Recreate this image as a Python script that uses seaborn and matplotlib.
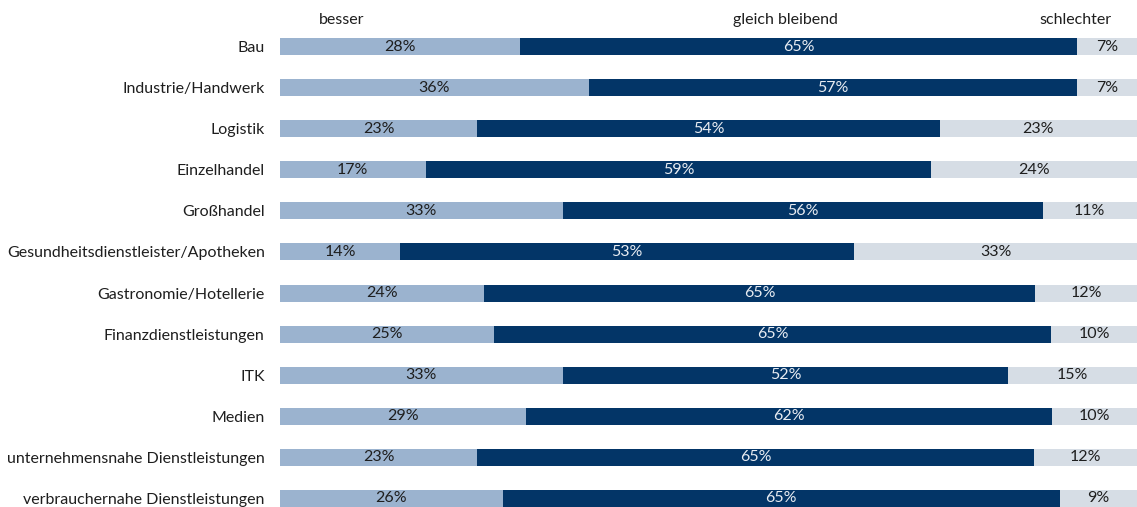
import numpy as np
import pandas as pd
import seaborn as sns
import matplotlib.pyplot as plt

branchen = [
    "Bau", "Industrie/Handwerk", "Logistik", "Einzelhandel", "Großhandel",
    "Gesundheitsdienstleister/Apotheken", "Gastronomie/Hotellerie",
    "Finanzdienstleistungen", "ITK", "Medien",
    "unternehmensnahe Dienstleistungen", "verbrauchernahe Dienstleistungen",
]
besser = [28, 36, 23, 17, 33, 14, 24, 25, 33, 29, 23, 26]
gleich = [65, 57, 54, 59, 56, 53, 65, 65, 52, 62, 65, 65]
schlechter = [7, 7, 23, 24, 11, 33, 12, 10, 15, 10, 12, 9]

LIGHT = "#9bb3cf"
DARK = "#033567"
GREY = "#d6dde5"

df = pd.DataFrame({"branche": branchen, "besser": besser,
                   "gleich": gleich, "schlechter": schlechter})
total = df["besser"] + df["gleich"] + df["schlechter"]
df["b_cum"] = df["besser"] / total * 100
df["g_cum"] = (df["besser"] + df["gleich"]) / total * 100
df["s_cum"] = 100.0

sns.set_theme(style="white")
plt.rcParams["font.family"] = ["Lato", "DejaVu Sans"]
FS = 11.5

fig = plt.figure(figsize=(11.37, 5.07), dpi=100)
ax = fig.add_axes([280 / 1137, 0, 857 / 1137, 1])

# stacked look: draw the cumulative totals on top of each other
bw = 17 / 41.09
for col, color in [("s_cum", GREY), ("g_cum", DARK), ("b_cum", LIGHT)]:
    sns.barplot(data=df, y="branche", x=col, color=color, width=bw,
                orient="h", ax=ax, saturation=1, linewidth=0)

ax.set_xlim(0, 100)
ax.set_ylim(11 + 8.5 / 41.09, -46.5 / 41.09)
for s in ax.spines.values():
    s.set_visible(False)
ax.set_xlabel("")
ax.set_ylabel("")
ax.set_xticks([])
ax.tick_params(axis="y", length=0, pad=11, labelsize=FS, labelcolor="#1e1e1e")

for i, row in df.iterrows():
    ax.text(row["b_cum"] / 2, i, f"{row['besser']}%", ha="center",
            va="center", fontsize=FS, color="#1e1e1e")
    ax.text((row["b_cum"] + row["g_cum"]) / 2, i, f"{row['gleich']}%",
            ha="center", va="center", fontsize=FS, color="#e8ecf2")
    ax.text((row["g_cum"] + 100) / 2, i, f"{row['schlechter']}%",
            ha="center", va="center", fontsize=FS, color="#1e1e1e")

for label, xf in [("besser", 0.072), ("gleich bleibend", 0.59),
                  ("schlechter", 0.928)]:
    ax.text(xf, 1 - 20 / 507, label, transform=ax.transAxes, ha="center",
            va="center", fontsize=FS, color="#1e1e1e")

fig.savefig("out.png", dpi=100)
